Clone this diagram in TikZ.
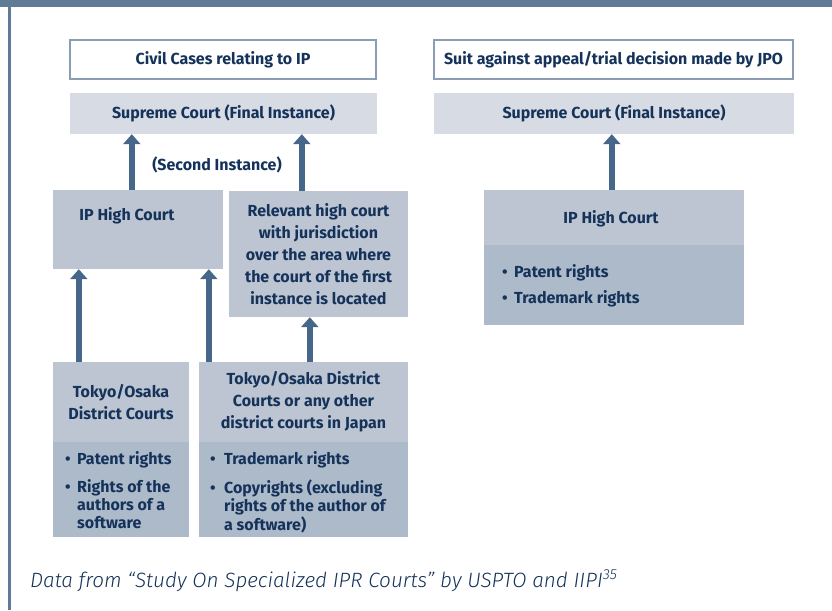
\documentclass[tikz,border=0pt]{standalone}
\usepackage{fontspec}
\setmainfont{Fira Sans}
\newfontface\capfont{Fira Sans Light Italic}
\usetikzlibrary{arrows.meta}
\definecolor{barc}{HTML}{5F7B96}
\definecolor{edgec}{HTML}{8B9DB3}
\definecolor{supc}{HTML}{D7DCE4}
\definecolor{midc}{HTML}{BCC5D1}
\definecolor{lowc}{HTML}{ADBACA}
\definecolor{arrc}{HTML}{46668A}
\definecolor{txtc}{HTML}{15335A}
\newcommand{\bu}{\textbullet}
\tikzset{
  every node/.style={text=txtc, font=\fontsize{16}{22}\selectfont\bfseries, inner sep=0pt},
  hdbox/.style={draw=edgec, line width=2pt, fill=white, rectangle},
  fbox/.style={rectangle, draw=none},
  arr/.style={draw=arrc, line width=6pt, -{Triangle[width=17pt,length=10pt]}},
  blist/.style={anchor=north west, font=\fontsize{16}{18}\selectfont\bfseries},
}
\begin{document}
\begin{tikzpicture}[x=1pt,y=-1pt]
\useasboundingbox (0,0) rectangle (832,610);
% frame
\fill[barc] (0,0) rectangle (832,7);
\fill[barc] (8,7) rectangle (10.5,610);
% headers
\node[hdbox, minimum width=306pt, minimum height=39pt] (civ) at (223,59.5) {Civil Cases relating to IP};
\node[hdbox, minimum width=359pt, minimum height=39pt] (suit) at (613.5,59.5) {Suit against appeal/trial decision made by JPO};
% supreme courts
\node[fbox, fill=supc, minimum width=307pt, minimum height=41pt] (sup1) at (223.5,113.5) {Supreme Court (Final Instance)};
\node[fbox, fill=supc, minimum width=360pt, minimum height=41pt] (sup2) at (614,113.5) {Supreme Court (Final Instance)};
\node (sec) at (217,165) {(Second Instance)};
% high courts
\node[fbox, fill=midc, minimum width=170pt, minimum height=79pt] (iph) at (138,229.5) {};
\node (iphtxt) at (127,216) {IP High Court};
\node[fbox, fill=midc, minimum width=179pt, minimum height=126pt, align=center] (rel) at (318.5,254)
  {Relevant high court\\with jurisdiction\\over the area where\\the court of the first\\instance is located};
% district courts
\node[fbox, fill=midc, minimum width=136pt, minimum height=80pt, align=center] (d1t) at (121,402) {Tokyo/Osaka\\District Courts};
\node[fbox, fill=lowc, minimum width=136pt, minimum height=95pt] (d1b) at (121,489.5) {};
\node[fbox, fill=midc, minimum width=209pt, minimum height=80pt, align=center] (d2t) at (303.5,402) {Tokyo/Osaka District\\Courts or any other\\district courts in Japan};
\node[fbox, fill=lowc, minimum width=209pt, minimum height=95pt] (d2b) at (303.5,489.5) {};
\node[blist] (l1) at (65,451) {\begin{tabular}{@{}p{12pt}@{}l@{}}
  \bu & Patent rights\\[10pt]
  \bu & Rights of the\\ & authors of a\\ & software\end{tabular}};
\node[blist] (l2) at (210,451) {\begin{tabular}{@{}p{14pt}@{}l@{}}
  \bu & Trademark rights\\[10pt]
  \bu & Copyrights (excluding\\ & rights of the author of\\ & a software)\end{tabular}};
% right high court
\node[fbox, fill=midc, minimum width=260pt, minimum height=55pt] (ip2t) at (614,217.5) {};
\node (ip2txt) at (611,219) {IP High Court};
\node[fbox, fill=lowc, minimum width=260pt, minimum height=80pt] (ip2b) at (614,285) {};
\node[blist] (l3) at (502,264) {\begin{tabular}{@{}p{12pt}@{}l@{}}
  \bu & Patent rights\\[8pt]
  \bu & Trademark rights\end{tabular}};
% arrows
\draw[arr] ([xshift=79pt]iph.north west) -- ([xshift=62pt]sup1.south west);
\draw[arr] ([xshift=73pt]rel.north west) -- ([xshift=232pt]sup1.south west);
\draw[arr] ([xshift=26pt]d1t.north west) -- ([xshift=26pt]iph.south west);
\draw[arr] ([xshift=10pt]d2t.north west) -- ([xshift=156pt]iph.south west);
\draw[arr] ([xshift=111pt]d2t.north west) -- ([xshift=81pt]rel.south west);
\draw[arr] ([xshift=128pt]ip2t.north west) -- ([xshift=178pt]sup2.south west);
% caption
\node[anchor=base west, font=\fontsize{20.7}{22}\selectfont\capfont] (cap) at (30,587)
  {Data from “Study On Specialized IPR Courts” by USPTO and IIPI\textsuperscript{35}};
\end{tikzpicture}
\end{document}
